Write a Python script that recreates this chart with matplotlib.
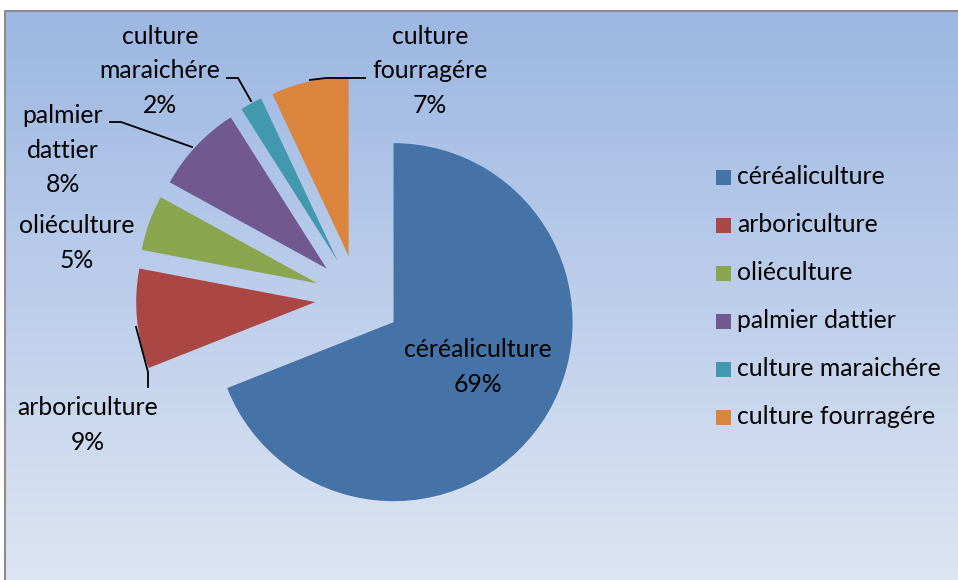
import numpy as np
import matplotlib
matplotlib.use("Agg")
import matplotlib.pyplot as plt
from matplotlib.patches import Rectangle
from matplotlib.colors import LinearSegmentedColormap

# ---- data ----
categories = ["céréaliculture", "arboriculture", "oliéculture",
              "palmier dattier", "culture maraichére", "culture fourragére"]
values = [69, 9, 5, 8, 2, 7]
slice_labels = ["céréaliculture\n69%", "arboriculture\n9%", "oliéculture\n5%",
                "palmier\ndattier\n8%", "culture\nmaraichére\n2%", "culture\nfourragére\n7%"]
colors = ["#4572A7", "#AA4643", "#89A54E", "#71588F", "#4198AF", "#DB843D"]

W, H = 958, 580
FONT = "Lato"
FS = 17.8

fig = plt.figure(figsize=(W / 100, H / 100), dpi=100)
ax = fig.add_axes([0, 0, 1, 1])

# gradient background (pixel coordinates, y measured from bottom)
cmap = LinearSegmentedColormap.from_list("bg", ["#DDE5F3", "#9CB7E2"])
grad = np.linspace(0, 1, 256).reshape(-1, 1)
ax.imshow(grad, extent=[5, W, 0, H - 10], origin="lower", cmap=cmap,
          aspect="auto", zorder=0)
# chart border
ax.plot([5.5, 5.5, W], [0, H - 10.5, H - 10.5], color="#8C8C8C", lw=1.5, zorder=1)

# pie
cx, cy, R = 358, H - 298, 179
wedges, _ = ax.pie(values, colors=colors, startangle=90, counterclock=False,
                   radius=R, center=(cx, cy), explode=[43] * len(values),
                   wedgeprops=dict(linewidth=0, zorder=2))
for w in wedges:
    w.set_zorder(2)

ax.set_xlim(0, W)
ax.set_ylim(0, H)
ax.set_aspect("auto")
ax.axis("off")

# slice labels (centres in pixel coords from top)
label_pos = [(478, 367), (88, 425), (77, 243), (63, 150), (160, 71), (430, 71)]
for txt, (x, y) in zip(slice_labels, label_pos):
    ax.text(x, H - y, txt, ha="center", va="center", fontsize=FS,
            family=FONT, color="black", linespacing=1.6, zorder=4)

# leader lines
leaders = [
    [(148, 387), (148, 372), (136, 327)],
    [(110, 122), (121, 122), (192, 147)],
    [(227, 78), (238, 78), (251, 101)],
    [(310, 80), (326, 78), (365, 78)],
]
for pts in leaders:
    xs = [p[0] for p in pts]
    ys = [H - p[1] for p in pts]
    ax.plot(xs, ys, color="black", lw=1.3, zorder=3)

# legend
ly0, ldy = 177, 48
for i, (cat, col) in enumerate(zip(categories, colors)):
    y = H - (ly0 + i * ldy)
    ax.add_patch(Rectangle((716, y - 7.5), 15, 15, facecolor=col,
                           edgecolor="none", zorder=4))
    ax.text(737, y, cat, ha="left", va="center", fontsize=FS,
            family=FONT, color="black", zorder=4)

fig.savefig("out.png", dpi=100)
